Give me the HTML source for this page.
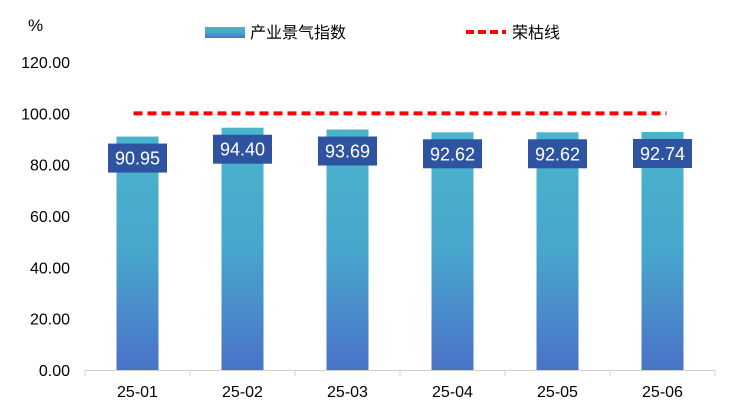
<!DOCTYPE html>
<html><head><meta charset="utf-8"><style>
body{margin:0;background:#fff;}
svg text{font-family:"Liberation Sans","Noto Sans CJK SC",sans-serif;}
</style></head><body>
<svg id="c" width="732" height="408">
<defs><linearGradient id="g" x1="0" y1="0" x2="0" y2="1">
<stop offset="0" stop-color="#4ab4cd"/><stop offset="0.5" stop-color="#48a6cc"/><stop offset="1" stop-color="#4a72c8"/></linearGradient></defs>
<text x="28" y="31" font-size="17" fill="#000">%</text>
<g>
<rect x="205" y="27" width="40" height="11" fill="url(#g)"/>
<text x="250" y="38" font-size="16">产业景气指数</text>
<line x1="466" y1="32" x2="506" y2="32" stroke="#f00" stroke-width="4" stroke-dasharray="8,4"/>
<text x="512" y="38" font-size="16">荣枯线</text>
</g>
<g id="yax"></g><g id="bars"></g><g id="xax"></g>
</svg>
<script>
const categories=["25-01","25-02","25-03","25-04","25-05","25-06"];
const indexValues=[90.95,94.40,93.69,92.62,92.62,92.74];
const lineValue=100;
const yTicks=[0,20,40,60,80,100,120];
const ns="http://www.w3.org/2000/svg";
const x0=85,x1=715,y0=370,yTop=62,yMax=120;
const bw=(x1-x0)/categories.length;
const X=i=>x0+bw*(i+0.5);
const Y=v=>y0-(v/yMax)*(y0-yTop);
function mk(t,a,p){const e=document.createElementNS(ns,t);for(const k in a)e.setAttribute(k,a[k]);p.appendChild(e);return e;}
const yax=document.getElementById('yax'),bars=document.getElementById('bars'),xax=document.getElementById('xax');
yTicks.forEach(v=>{const t=mk('text',{x:70,y:Y(v)+6,'font-size':16,'text-anchor':'end'},yax);t.textContent=v.toFixed(2);

});
indexValues.forEach((v,i)=>{
const r=mk('rect',{x:X(i)-21,y:Y(v),width:42,height:y0-Y(v),fill:'url(#g)'},bars);


const b=mk('rect',{x:X(i)-29.5,y:Y(v)+7,width:59,height:29,fill:'#2e54a1'},bars);


const t=mk('text',{x:X(i),y:Y(v)+28,'font-size':18,fill:'#fff','text-anchor':'middle'},bars);t.textContent=v.toFixed(2);


});
const ln=mk('line',{x1:X(0)-4,x2:X(categories.length-1)+4,y1:Y(lineValue),y2:Y(lineValue),stroke:'#f00','stroke-width':4,'stroke-dasharray':'9,5'},bars);


const ax=mk('line',{x1:x0,x2:x1,y1:y0+0.5,y2:y0+0.5,stroke:'#d0d0d0'},xax);


for(let i=0;i<=categories.length;i++){const tk=mk('line',{x1:x0+bw*i,x2:x0+bw*i,y1:y0,y2:y0+6,stroke:'#d0d0d0'},xax);

}
categories.forEach((c,i)=>{const t=mk('text',{x:X(i),y:397,'font-size':16,'text-anchor':'middle'},xax);t.textContent=c;

});
</script>
</body></html>
